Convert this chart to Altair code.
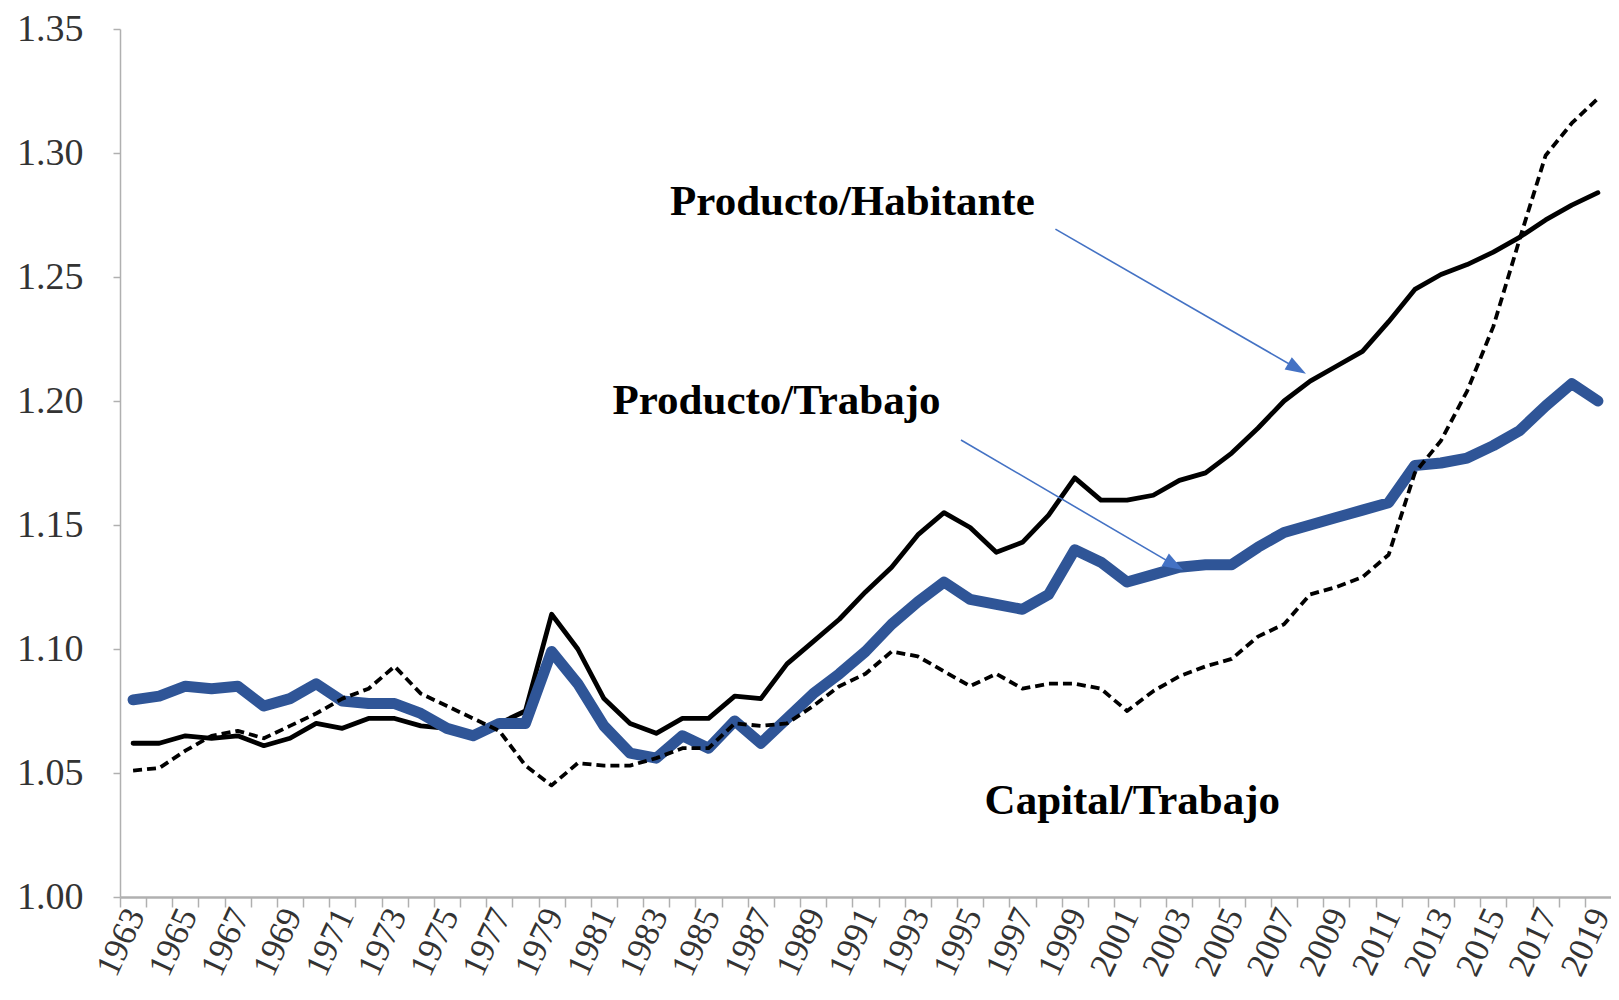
import altair as alt
import pandas as pd

years = list(range(1963, 2020))

producto_trabajo = [
    1.0795, 1.081, 1.085, 1.084, 1.085, 1.077, 1.080, 1.086, 1.079, 1.078,
    1.078, 1.074, 1.068, 1.065, 1.070, 1.070, 1.099, 1.086, 1.069, 1.058,
    1.056, 1.065, 1.060, 1.071, 1.062, 1.072, 1.082, 1.090, 1.099, 1.110,
    1.119, 1.127, 1.120, 1.118, 1.116, 1.122, 1.140, 1.135, 1.127, 1.130,
    1.133, 1.134, 1.134, 1.141, 1.147, 1.150, 1.153, 1.156, 1.159, 1.174,
    1.175, 1.177, 1.182, 1.188, 1.198, 1.207, 1.200,
]

producto_habitante = [
    1.062, 1.062, 1.065, 1.064, 1.065, 1.061, 1.064, 1.070, 1.068, 1.072,
    1.072, 1.069, 1.068, 1.065, 1.070, 1.075, 1.114, 1.100, 1.080, 1.070,
    1.066, 1.072, 1.072, 1.081, 1.080, 1.094, 1.103, 1.112, 1.123, 1.133,
    1.146, 1.155, 1.149, 1.139, 1.143, 1.154, 1.169, 1.160, 1.160, 1.162,
    1.168, 1.171, 1.179, 1.189, 1.200, 1.208, 1.214, 1.220, 1.232, 1.245,
    1.251, 1.255, 1.260, 1.266, 1.273, 1.279, 1.284,
]

capital_trabajo = [
    1.051, 1.052, 1.059, 1.065, 1.067, 1.064, 1.069, 1.074, 1.080, 1.084,
    1.093, 1.082, 1.077, 1.072, 1.067, 1.053, 1.045, 1.054, 1.053, 1.053,
    1.056, 1.060, 1.060, 1.070, 1.069, 1.070, 1.077, 1.085, 1.090, 1.099,
    1.097, 1.091, 1.085, 1.090, 1.084, 1.086, 1.086, 1.084, 1.075, 1.083,
    1.089, 1.093, 1.096, 1.105, 1.110, 1.122, 1.125, 1.129, 1.138, 1.171,
    1.184, 1.204, 1.230, 1.265, 1.299, 1.312, 1.322,
]

label_text = ["Producto/Habitante", "Producto/Trabajo", "Capital/Trabajo"]
label_year = [1990.5, 1987.6, 2001.2]
label_value = [1.2802, 1.2001, 1.0389]

arrow_year_start = [1998.26, 1994.65]
arrow_value_start = [1.2693, 1.1843]
arrow_year_head = [2007.5, 2002.8]
arrow_value_head = [1.2131, 1.1339]

y_ticks = [1.00, 1.05, 1.10, 1.15, 1.20, 1.25, 1.30, 1.35]
x_tick_positions = [1962.5 + i for i in range(57)]

FONT = "Liberation Serif"
AXIS_GRAY = "#B0B0B0"

x_enc = alt.X(
    "x:Q",
    scale=alt.Scale(domain=[1962.5, 2019.5], nice=False, zero=False),
    axis=alt.Axis(
        values=x_tick_positions,
        labelExpr="(datum.value - 1962.5) % 2 == 0 ? '' + (datum.value + 0.5) : ''",
        labelAngle=-65,
        labelOffset=15,
        labelPadding=3,
        labelFont=FONT,
        labelFontSize=35,
        labelColor="#333333",
        labelOverlap=False,
        labelFlush=False,
        labelBound=False,
        tickSize=10,
        tickColor=AXIS_GRAY,
        tickWidth=1.5,
        domainColor=AXIS_GRAY,
        domainWidth=2.5,
        grid=False,
        title=None,
    ),
)

y_enc = alt.Y(
    "y:Q",
    scale=alt.Scale(domain=[1.0, 1.35], nice=False, zero=False),
    axis=alt.Axis(
        values=y_ticks,
        format=".2f",
        labelFont=FONT,
        labelFontSize=38,
        labelColor="#333333",
        labelPadding=30,
        tickSize=7,
        tickColor=AXIS_GRAY,
        tickWidth=1.5,
        domainColor=AXIS_GRAY,
        domainWidth=1.5,
        grid=False,
        title=None,
    ),
)

df_hab = pd.DataFrame({"x": years, "y": producto_habitante})
df_trab = pd.DataFrame({"x": years, "y": producto_trabajo})
df_cap = pd.DataFrame({"x": years, "y": capital_trabajo})

line_hab = alt.Chart(df_hab).mark_line(
    color="#000000", strokeWidth=4.8, strokeCap="round", strokeJoin="round"
).encode(x=x_enc, y=y_enc)

line_trab = alt.Chart(df_trab).mark_line(
    color="#2F5597", strokeWidth=11, strokeCap="round", strokeJoin="round"
).encode(x=x_enc, y=y_enc)

line_cap = alt.Chart(df_cap).mark_line(
    color="#000000", strokeWidth=3.8, strokeDash=[9, 5], strokeJoin="round"
).encode(x=x_enc, y=y_enc)

df_labels = pd.DataFrame({"x": label_year, "y": label_value, "t": label_text})
labels = alt.Chart(df_labels).mark_text(
    font=FONT, fontSize=43, fontWeight="bold", color="#000000",
    align="center", baseline="middle",
).encode(x=x_enc, y=y_enc, text="t:N")

df_arrows = pd.DataFrame({
    "x": arrow_year_start, "y": arrow_value_start,
    "x2": arrow_year_head, "y2": arrow_value_head,
})
arrow_lines = alt.Chart(df_arrows).mark_rule(
    color="#4472C4", strokeWidth=1.6
).encode(x=x_enc, y=y_enc, x2="x2:Q", y2="y2:Q")

df_heads = pd.DataFrame({"x": arrow_year_head, "y": arrow_value_head})
arrow_heads = alt.Chart(df_heads).mark_point(
    shape="M0,-1L0.7,1L-0.7,1Z", filled=True, color="#4472C4",
    size=420, angle=120, opacity=1,
).encode(x=x_enc, y=y_enc)

chart = alt.layer(
    line_hab, line_trab, line_cap, labels, arrow_lines, arrow_heads
).properties(
    width=1491, height=868,
    autosize=alt.AutoSizeParams(type="none"),
    padding={"left": 112, "top": 21, "right": 0, "bottom": 88},
    background="white",
).configure_view(stroke=None)

chart.save("out.html", embed_options={"renderer": "svg", "actions": False})
